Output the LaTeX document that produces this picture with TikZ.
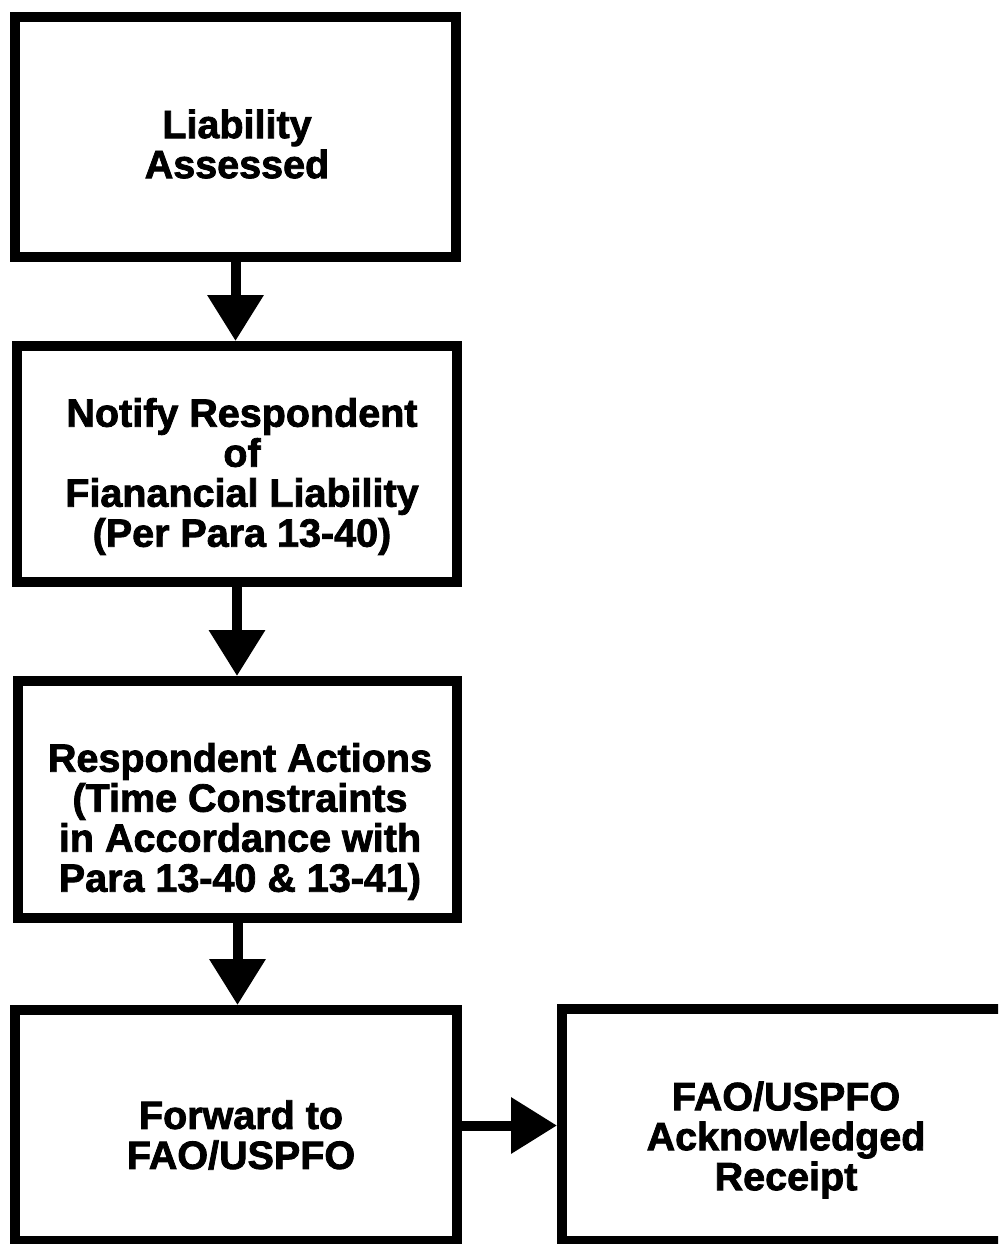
\documentclass[tikz,border=0pt]{standalone}
\usepackage{fontspec}
\setmainfont{Liberation Sans}[BoldFeatures={FakeBold=2}]
\usetikzlibrary{arrows.meta}

\tikzset{
  box/.style={draw=black, line width=10pt, fill=white, inner sep=0pt},
  lbl/.style={align=center, inner sep=0pt,
    font=\bfseries\fontsize{39.5}{40}\selectfont},
  arr/.style={line width=10pt, -{Triangle[width=54pt,length=46pt]}}
}

\begin{document}
\begin{tikzpicture}[x=1pt, y=-1pt]
  \clip (0,0) rectangle (998,1244);
  \fill[white] (0,0) rectangle (998,1244);

  % process boxes
  \node[box, minimum width=441pt, minimum height=240pt] (b1) at (235.5,137) {};
  \node[box, minimum width=440pt, minimum height=236pt] (b2) at (237,464) {};
  \node[box, minimum width=439pt, minimum height=237pt] (b3) at (237.5,799.5) {};
  \node[box, minimum width=442pt, minimum height=231pt] (b4) at (236,1125.5) {};
  \node[box, minimum width=448pt, minimum height=232pt] (b5) at (786,1125) {};

  % box texts
  \node[lbl] (t1) at (237,144) {Liability\\Assessed};
  \node[lbl] (t2) at (242,476.5) {Notify Respondent\\of\\Fianancial Liability\\(Per Para 13-40)};
  \node[lbl] (t3) at (240,821.5) {Respondent Actions\\(Time Constraints\\in Accordance with\\Para 13-40 \& 13-41)};
  \node[lbl] (t4) at (241,1135) {Forward to\\FAO/USPFO};
  \node[lbl] (t5) at (786,1140) {FAO/USPFO\\Acknowledged\\Receipt};

  % flow arrows
  \draw[arr] (b1.south) -- (b1.south |- b2.north);
  \draw[arr] (b2.south) -- (b2.south |- b3.north);
  \draw[arr] (b3.south) -- (b3.south |- b4.north);
  \draw[arr] (b4.east) -- (b4.east -| b5.west);
\end{tikzpicture}
\end{document}
